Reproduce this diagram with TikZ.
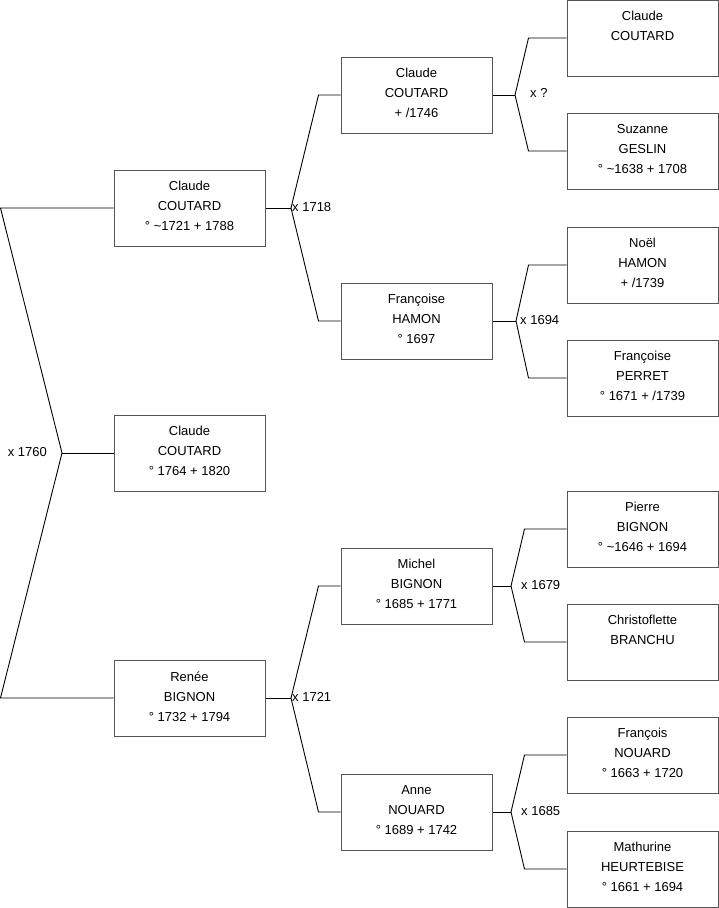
\documentclass[tikz,border=0pt]{standalone}
\usepackage{fontspec}
\setmainfont{Liberation Sans}
\usepackage{xcolor}
\usetikzlibrary{positioning}
\definecolor{boxgray}{RGB}{85,85,85}

\tikzset{
  person/.style={draw=boxgray, line width=1pt, minimum width=151pt, minimum height=76pt,
    align=center, inner sep=0pt, text depth=3.5pt, font=\fontsize{13}{20}\selectfont},
  union/.style={inner sep=0pt, font=\fontsize{13}{14}\selectfont},
  link/.style={line width=0.9pt}
}

\begin{document}
\begin{tikzpicture}[x=1pt,y=-1pt]
  \useasboundingbox (0,0) rectangle (719,908);

  % subject and parents
  \node[person] (c1) at (189.5,208) {Claude\\COUTARD\\° \textasciitilde1721 + 1788};
  \node[person] (c0) at (189.5,453) {Claude\\COUTARD\\° 1764 + 1820};
  \node[person] (c2) at (189.5,698) {Renée\\BIGNON\\° 1732 + 1794};

  % grandparents
  \node[person] (f1) at (416.5,95)  {Claude\\COUTARD\\+ /1746};
  \node[person] (m1) at (416.5,321) {Françoise\\HAMON\\° 1697};
  \node[person] (f2) at (416.5,586) {Michel\\BIGNON\\° 1685 + 1771};
  \node[person] (m2) at (416.5,812) {Anne\\NOUARD\\° 1689 + 1742};

  % great-grandparents
  \node[person] (ff1) at (642.5,38)  {Claude\\COUTARD\\~};
  \node[person] (fm1) at (642.5,151) {Suzanne\\GESLIN\\° \textasciitilde1638 + 1708};
  \node[person] (mf1) at (642.5,265) {Noël\\HAMON\\+ /1739};
  \node[person] (mm1) at (642.5,378) {Françoise\\PERRET\\° 1671 + /1739};
  \node[person] (ff2) at (642.5,529) {Pierre\\BIGNON\\° \textasciitilde1646 + 1694};
  \node[person] (fm2) at (642.5,642) {Christoflette\\BRANCHU\\~};
  \node[person] (mf2) at (642.5,755) {François\\NOUARD\\° 1663 + 1720};
  \node[person] (mm2) at (642.5,869) {Mathurine\\HEURTEBISE\\° 1661 + 1694};

  % unions
  \coordinate (u0) at (62,453);
  \coordinate (u1) at (291,208);
  \coordinate (u2) at (291,698);
  \coordinate (u3) at (515,95);
  \coordinate (u4) at (516,321);
  \coordinate (u5) at (511,586);
  \coordinate (u6) at (511,812);

  \draw[link] (c0.west) -- (u0);
  \draw[link] (c1.west) -- ++(-113,0) -- (u0);
  \draw[link] (c2.west) -- ++(-113,0) -- (u0);

  \draw[link] (c1.east) -- (u1);
  \draw[link] (f1.west) -- ++(-22,0) -- (u1);
  \draw[link] (m1.west) -- ++(-22,0) -- (u1);

  \draw[link] (c2.east) -- (u2);
  \draw[link] (f2.west) -- ++(-22,0) -- (u2);
  \draw[link] (m2.west) -- ++(-22,0) -- (u2);

  \draw[link] (f1.east) -- (u3);
  \draw[link] (ff1.west) -- ++(-38,0) -- (u3);
  \draw[link] (fm1.west) -- ++(-38,0) -- (u3);

  \draw[link] (m1.east) -- (u4);
  \draw[link] (mf1.west) -- ++(-38,0) -- (u4);
  \draw[link] (mm1.west) -- ++(-38,0) -- (u4);

  \draw[link] (f2.east) -- (u5);
  \draw[link] (ff2.west) -- ++(-42,0) -- (u5);
  \draw[link] (fm2.west) -- ++(-42,0) -- (u5);

  \draw[link] (m2.east) -- (u6);
  \draw[link] (mf2.west) -- ++(-42,0) -- (u6);
  \draw[link] (mm2.west) -- ++(-42,0) -- (u6);

  % marriage dates
  \node[union, anchor=east] (d0) at (47,452) {x 1760};
  \node[union, anchor=west] (d1) at (292,207) {x 1718};
  \node[union, anchor=west] (d2) at (292,697) {x 1721};
  \node[union, anchor=west] (d3) at (530,93) {x ?};
  \node[union, anchor=west] (d4) at (520,320) {x 1694};
  \node[union, anchor=west] (d5) at (521,585) {x 1679};
  \node[union, anchor=west] (d6) at (521,811) {x 1685};
\end{tikzpicture}
\end{document}
